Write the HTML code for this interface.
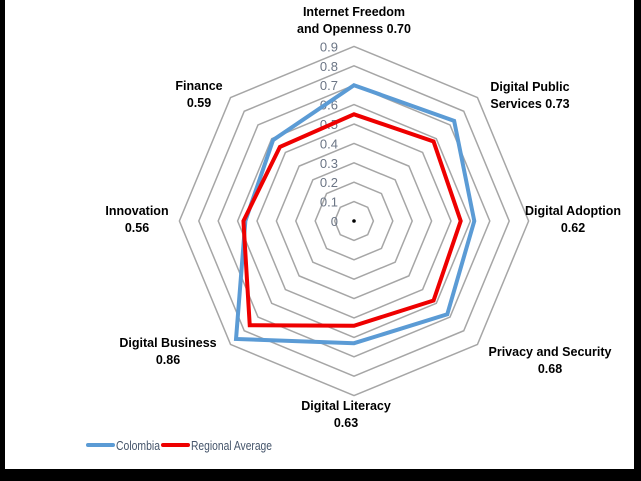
<!DOCTYPE html>
<html><head><meta charset="utf-8"><style>
html,body{margin:0;padding:0;background:#000;}
#wrap{position:relative;width:641px;height:481px;background:#000;overflow:hidden;}
#panel{position:absolute;left:5px;top:0;width:629px;height:469px;background:#fff;}
svg{position:absolute;left:0;top:0;}
text{font-family:"Liberation Sans",sans-serif;}
</style></head><body>
<div id="wrap">
<div id="panel"></div>
<svg id="chart" width="641" height="481"></svg>
</div>
<script>
const categories=["Internet Freedom|and Openness 0.70","Digital Public|Services 0.73","Digital Adoption|0.62","Privacy and Security|0.68","Digital Literacy|0.63","Digital Business|0.86","Innovation|0.56","Finance|0.59"];
const colombia=[0.70,0.73,0.62,0.68,0.63,0.86,0.56,0.59];
const regional=[0.55,0.58,0.55,0.58,0.54,0.76,0.57,0.54];
const ticks=[0,0.1,0.2,0.3,0.4,0.5,0.6,0.7,0.8,0.9];
const NS="http://www.w3.org/2000/svg";
const svg=document.getElementById('chart');
const cx=354,cy=221,R=194;
function pt(i,v){const a=-Math.PI/2+i*2*Math.PI/8;return [cx+R*v*Math.cos(a),cy+R*v*Math.sin(a)];}
function mk(tag,attrs){const e=document.createElementNS(NS,tag);for(const k in attrs)e.setAttribute(k,attrs[k]);svg.appendChild(e);return e;}
ticks.forEach((t,k)=>{if(t===0)return;
 const g=mk('polygon',{points:categories.map((c,i)=>pt(i,t).join(',')).join(' '),fill:'none',stroke:'#a6a6a6','stroke-width':1.5});
 
 
});
ticks.forEach(t=>{
 const tx=mk('text',{x:cx-16,y:cy-R*t+5,'font-size':13,fill:'#6b7585','text-anchor':'end'});
 tx.textContent=String(t);
 
 
});
mk('circle',{cx:cx,cy:cy,r:1.8,fill:'#000'});
function series(vals,color,name){
 const p=mk('polygon',{points:vals.map((v,i)=>pt(i,v).join(',')).join(' '),fill:'none',stroke:color,'stroke-width':4,'stroke-linejoin':'miter'});
 
 
}
series(colombia,'#5b9bd5','series-colombia');
series(regional,'#ee0000','series-regional-average');
const lab=[[354,16,'middle'],[530,91,'middle'],[573,215,'middle'],[550,356,'middle'],[346,410,'middle'],[168,347,'middle'],[137,215,'middle'],[199,90,'middle']];
categories.forEach((c,i)=>{
 const [x,y,a]=lab[i];
 const t=mk('text',{x:x,y:y,'font-size':12.5,'font-weight':'bold','text-anchor':a,fill:'#000'});
 
 
 c.split('|').forEach((s,j)=>{const ts=document.createElementNS(NS,'tspan');ts.setAttribute('x',x);ts.setAttribute('dy',j?17:0);ts.textContent=s;t.appendChild(ts);});
});
function legend(x,color,label,name,w){
 const l=mk('line',{x1:x,y1:445,x2:x+25,y2:445,stroke:color,'stroke-width':4,'stroke-linecap':'round'});
 
 
 const t=mk('text',{x:x+28,y:450,'font-size':13,fill:'#44546a',textLength:w,lengthAdjust:'spacingAndGlyphs'});
 t.textContent=label;
 
 
}
legend(88,'#5b9bd5','Colombia','legend-colombia',44);
legend(163,'#ee0000','Regional Average','legend-regional-average',81);
</script>
</body></html>
